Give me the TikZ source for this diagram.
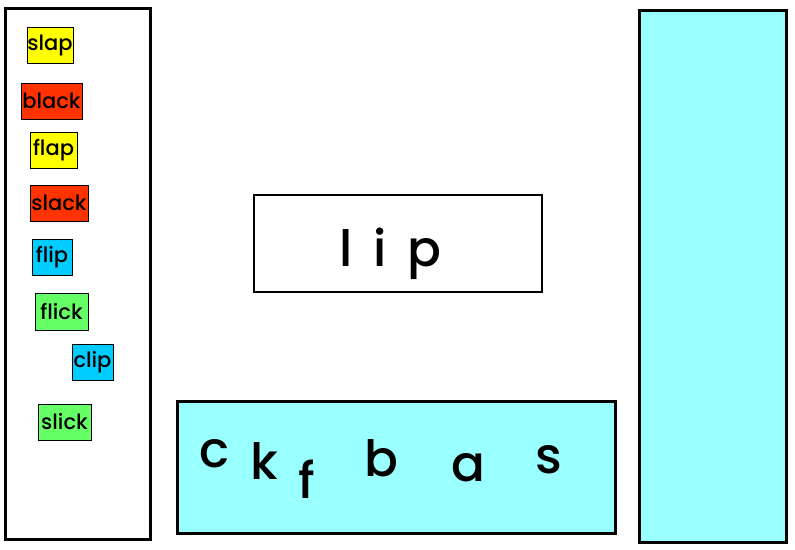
\documentclass[tikz,border=0pt]{standalone}
\usepackage{fontspec}
\setmainfont{Poppins}
\newfontfamily\medfont{Poppins Medium}[WordSpace=1.6]
\definecolor{cyanbg}{HTML}{99FFFF}
\definecolor{lblyellow}{HTML}{FFFF00}
\definecolor{lblred}{HTML}{FF3300}
\definecolor{lblblue}{HTML}{00CCFF}
\definecolor{lblgreen}{HTML}{66FF66}
\begin{document}
\begin{tikzpicture}[x=1pt,y=-1pt,
  lbl/.style={draw=black,line width=1pt,inner sep=0pt,minimum height=36pt,
    font=\medfont\fontsize{21}{21}\selectfont,text=black},
  bigletter/.style={anchor=base,inner sep=0pt,font=\medfont\fontsize{50}{50}\selectfont},
  panel/.style={draw=black,line width=3pt}]
\useasboundingbox (0,0) rectangle (795,549);
% left panel
\draw[panel,fill=white] (5.5,8.5) rectangle (150.5,539.5);
\node[lbl,fill=lblyellow,minimum width=46pt] (slap) at (50,45) {slap};
\node[lbl,fill=lblred,minimum width=61pt] (black) at (51.5,101) {black};
\node[lbl,fill=lblyellow,minimum width=47pt] (flap) at (53.5,150) {flap};
\node[lbl,fill=lblred,minimum width=58pt] (slack) at (59,203) {slack};
\node[lbl,fill=lblblue,minimum width=40pt] (flip) at (52,257) {flip};
\node[lbl,fill=lblgreen,minimum width=53pt,minimum height=37pt] (flick) at (61.5,311.5) {flick};
\node[lbl,fill=lblblue,minimum width=41pt] (clip) at (92.5,362) {clip};
\node[lbl,fill=lblgreen,minimum width=53pt] (slick) at (64.5,422) {slick};
% middle word box
\node[draw=black,line width=2.5pt,minimum width=288pt,minimum height=97pt,inner sep=0pt] (wordbox) at (398,243.5) {};
\node[bigletter] (lip) at (390,266) {l i p};
% bottom letters box
\node[draw=black,line width=2.5pt,fill=cyanbg,minimum width=438pt,minimum height=132pt,inner sep=0pt] (letterbox) at (396.5,467.5) {};
\node[bigletter] (lc) at (214,467) {c};
\node[bigletter] (lk) at (264,479) {k};
\node[bigletter] (lf) at (307,498) {f};
\node[bigletter] (lb) at (381,476) {b};
\node[bigletter] (la) at (468,481) {a};
\node[bigletter] (ls) at (549,473) {s};
% right panel
\draw[panel,fill=cyanbg] (639.5,10.5) rectangle (786.5,542.5);
\end{tikzpicture}
\end{document}
